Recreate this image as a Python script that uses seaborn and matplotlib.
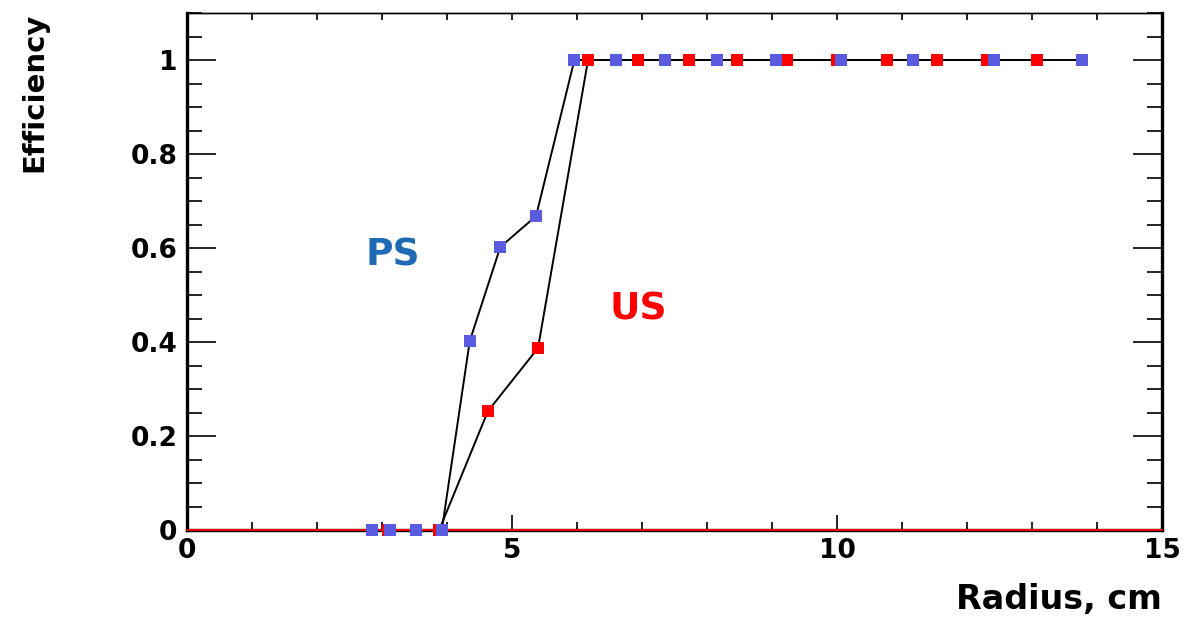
import matplotlib
matplotlib.use("Agg")
import matplotlib.pyplot as plt
import seaborn as sns
import pandas as pd
from matplotlib.ticker import MultipleLocator, FuncFormatter

# ---- data ----
ps_radius = [2.84, 3.13, 3.52, 3.92, 4.35, 4.82, 5.37, 5.96, 6.60, 7.35,
             8.15, 9.06, 10.06, 11.17, 12.42, 13.77]
ps_eff = [0.0, 0.0, 0.0, 0.0, 0.402, 0.602, 0.668, 1.0, 1.0, 1.0,
          1.0, 1.0, 1.0, 1.0, 1.0, 1.0]

us_radius = [3.09, 3.88, 4.63, 5.40, 6.17, 6.94, 7.72, 8.46, 9.23, 10.0,
             10.77, 11.54, 12.31, 13.07]
us_eff = [0.0, 0.0, 0.253, 0.387, 1.0, 1.0, 1.0, 1.0, 1.0, 1.0,
          1.0, 1.0, 1.0, 1.0]

x_label = "Radius, cm"
y_label = "Efficiency"
ps_text = "PS"
us_text = "US"

sns.set_theme(style="white")
plt.rcParams['font.family'] = ['DejaVu Sans']
plt.rcParams['font.weight'] = 'bold'
plt.rcParams['text.color'] = 'black'
plt.rcParams['axes.labelcolor'] = 'black'
plt.rcParams['xtick.color'] = 'black'
plt.rcParams['ytick.color'] = 'black'

ps_df = pd.DataFrame({"r": ps_radius, "e": ps_eff})
us_df = pd.DataFrame({"r": us_radius, "e": us_eff})

fig = plt.figure(figsize=(11.85, 6.18), dpi=100)
ax = fig.add_axes([187/1185, 88/618, (1162-187)/1185, (530-13)/618])

ax.axhline(0, color="red", lw=1.3, zorder=4, clip_on=False)

sns.lineplot(data=us_df, x="r", y="e", ax=ax, color="black", lw=1.4,
             sort=False, zorder=3)
sns.lineplot(data=ps_df, x="r", y="e", ax=ax, color="black", lw=1.4,
             sort=False, zorder=3)
sns.scatterplot(data=us_df, x="r", y="e", ax=ax, color="#ff0000", marker="s",
                s=80, linewidth=0, zorder=5, clip_on=False)
sns.scatterplot(data=ps_df, x="r", y="e", ax=ax, color="#5b5be0", marker="s",
                s=80, linewidth=0, zorder=6, clip_on=False)

ax.set_xlim(0, 15)
ax.set_ylim(0, 1.1)

ax.xaxis.set_major_locator(MultipleLocator(5))
ax.xaxis.set_minor_locator(MultipleLocator(1))
ax.yaxis.set_major_locator(MultipleLocator(0.2))
ax.yaxis.set_minor_locator(MultipleLocator(0.05))

def fmt(v, pos):
    s = f"{v:.1f}".rstrip("0").rstrip(".")
    return s
ax.yaxis.set_major_formatter(FuncFormatter(fmt))
ax.xaxis.set_major_formatter(FuncFormatter(fmt))

ax.tick_params(axis="x", which="major", direction="in", length=11, width=1.2,
               bottom=True, top=False, labelsize=19, pad=6, color="black",
               labelcolor="black")
ax.tick_params(axis="x", which="minor", direction="in", length=5.5, width=1.2,
               bottom=True, top=False, color="black")
ax.tick_params(axis="y", which="major", direction="in", length=21, width=1.2,
               left=True, right=True, labelsize=19, pad=7, color="black",
               labelcolor="black")
ax.tick_params(axis="y", which="minor", direction="in", length=11, width=1.2,
               left=True, right=True, color="black")
for lab in ax.get_xticklabels() + ax.get_yticklabels():
    lab.set_fontweight("bold")

top = ax.secondary_xaxis("top")
top.xaxis.set_major_locator(MultipleLocator(1))
top.tick_params(axis="x", direction="in", length=5, width=1.2, labeltop=False,
                color="black")
top.spines["top"].set_linewidth(1.0)
top.spines["top"].set_color("black")

for side in ["left", "right", "bottom"]:
    ax.spines[side].set_linewidth(2.4)
    ax.spines[side].set_color("black")
ax.spines["top"].set_linewidth(1.0)
ax.spines["top"].set_color("black")

ax.set_xlabel(x_label, loc="right", fontsize=24, fontweight="bold",
              color="black")
ax.set_ylabel(y_label, loc="top", fontsize=21, fontweight="bold",
              color="black")
ax.xaxis.set_label_coords(1.0, -(583-530)/517)
ax.yaxis.set_label_coords(-(187-48)/975, 1.0)

ax.text(3.17, 0.585, ps_text, color="#1f6ab4", fontsize=27, fontweight="bold",
        ha="center", va="center")
ax.text(6.95, 0.47, us_text, color="#ff0000", fontsize=27, fontweight="bold",
        ha="center", va="center")

fig.savefig("out.png", dpi=100)
